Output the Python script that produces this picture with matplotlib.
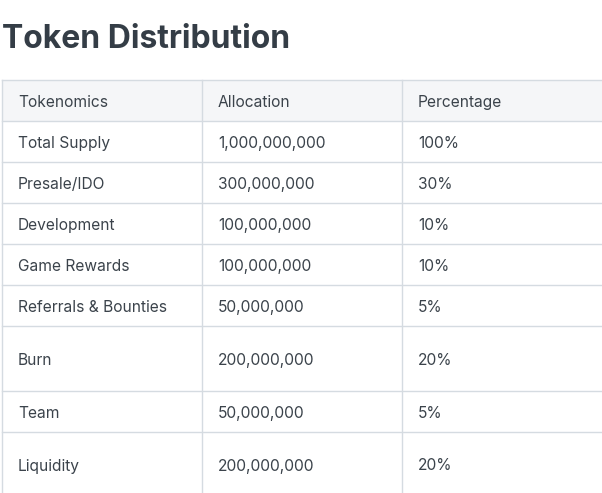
import matplotlib.pyplot as plt
from matplotlib.patches import Rectangle

columns = ['Tokenomics', 'Allocation', 'Percentage']
tokenomics = ['Total Supply', 'Presale/IDO', 'Development', 'Game Rewards',
              'Referrals & Bounties', 'Burn', 'Team', 'Liquidity']
allocation = ['1,000,000,000', '300,000,000', '100,000,000', '100,000,000',
              '50,000,000', '200,000,000', '50,000,000', '200,000,000']
percentage = ['100%', '30%', '10%', '10%', '5%', '20%', '5%', '20%']

# row boundaries in pixels (header + rows)
row_edges = [80, 121, 162, 203, 244, 285, 326, 391, 432, 498]
col_edges = [2, 202, 402, 640]

fig = plt.figure(figsize=(6.02, 4.93), dpi=100)
ax = fig.add_axes([0, 0, 1, 1])
ax.set_xlim(0, 602)
ax.set_ylim(493, 0)
ax.axis('off')

line_c = '#d5dbe1'
text_c = '#3b434b'

ax.text(2, 39, 'Token Distribution', fontsize=23, fontweight='bold',
        color='#343d46', va='center', ha='left', family='Inter')

ax.add_patch(Rectangle((col_edges[0], row_edges[0]), 640, row_edges[1] - row_edges[0],
                       facecolor='#f5f6f8', edgecolor='none'))
for y in row_edges[:-1]:
    ax.plot([col_edges[0], 640], [y, y], color=line_c, lw=1)
for x in col_edges[:-1]:
    ax.plot([x, x], [row_edges[0], 493], color=line_c, lw=1)

rows = [columns] + [list(r) for r in zip(tokenomics, allocation, percentage)]
for i, row in enumerate(rows):
    yc = (row_edges[i] + row_edges[i + 1]) / 2 + 2
    if i == len(rows) - 1:
        yc = 466
    for j, val in enumerate(row):
        ax.text(col_edges[j] + 16, yc, val, fontsize=11.2, color=text_c,
                va='center', ha='left', family='Inter')

fig.savefig('out.png', dpi=100)
